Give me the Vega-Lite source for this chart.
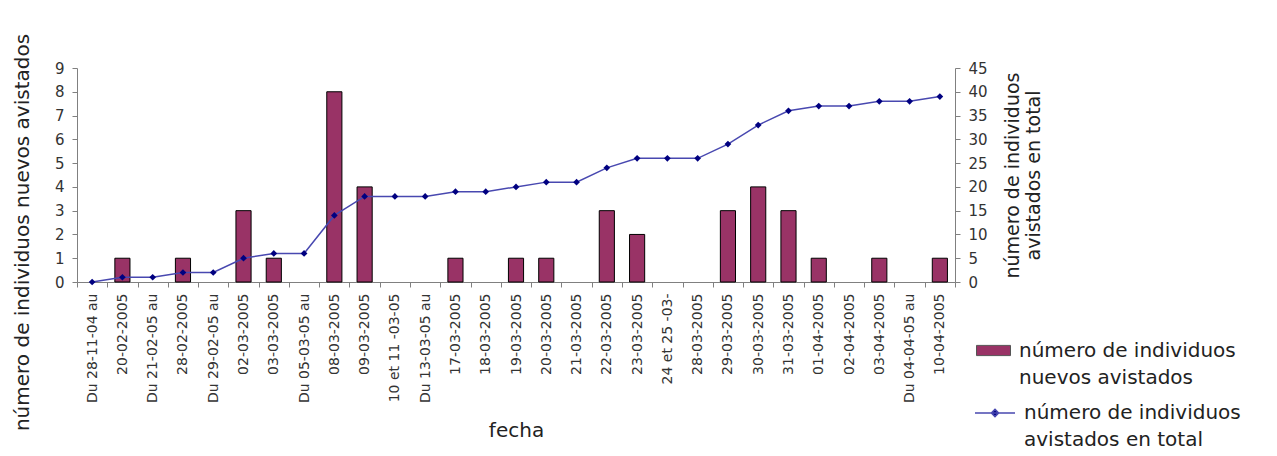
{
  "$schema": "https://vega.github.io/schema/vega-lite/v6.json",
  "autosize": {"type": "none"},
  "width": 878,
  "height": 214,
  "padding": {"left": 77, "top": 68, "right": 322, "bottom": 174},
  "background": "white",
  "config": {
    "view": {"stroke": null},
    "font": "DejaVu Sans",
    "axis": {
      "grid": false,
      "domainColor": "#808080",
      "tickColor": "#808080",
      "labelColor": "#333333",
      "titleColor": "#222222",
      "titleFontWeight": "normal",
      "tickSize": 5
    }
  },
  "data": {
    "values": [
      {"fecha": "Du 28-11-04 au", "nuevos": 0, "total": 0},
      {"fecha": "20-02-2005", "nuevos": 1, "total": 1},
      {"fecha": "Du 21-02-05 au", "nuevos": 0, "total": 1},
      {"fecha": "28-02-2005", "nuevos": 1, "total": 2},
      {"fecha": "Du 29-02-05 au", "nuevos": 0, "total": 2},
      {"fecha": "02-03-2005", "nuevos": 3, "total": 5},
      {"fecha": "03-03-2005", "nuevos": 1, "total": 6},
      {"fecha": "Du 05-03-05 au", "nuevos": 0, "total": 6},
      {"fecha": "08-03-2005", "nuevos": 8, "total": 14},
      {"fecha": "09-03-2005", "nuevos": 4, "total": 18},
      {"fecha": "10 et 11 -03-05", "nuevos": 0, "total": 18},
      {"fecha": "Du 13-03-05 au", "nuevos": 0, "total": 18},
      {"fecha": "17-03-2005", "nuevos": 1, "total": 19},
      {"fecha": "18-03-2005", "nuevos": 0, "total": 19},
      {"fecha": "19-03-2005", "nuevos": 1, "total": 20},
      {"fecha": "20-03-2005", "nuevos": 1, "total": 21},
      {"fecha": "21-03-2005", "nuevos": 0, "total": 21},
      {"fecha": "22-03-2005", "nuevos": 3, "total": 24},
      {"fecha": "23-03-2005", "nuevos": 2, "total": 26},
      {"fecha": "24 et 25 -03-", "nuevos": 0, "total": 26},
      {"fecha": "28-03-2005", "nuevos": 0, "total": 26},
      {"fecha": "29-03-2005", "nuevos": 3, "total": 29},
      {"fecha": "30-03-2005", "nuevos": 4, "total": 33},
      {"fecha": "31-03-2005", "nuevos": 3, "total": 36},
      {"fecha": "01-04-2005", "nuevos": 1, "total": 37},
      {"fecha": "02-04-2005", "nuevos": 0, "total": 37},
      {"fecha": "03-04-2005", "nuevos": 1, "total": 38},
      {"fecha": "Du 04-04-05 au", "nuevos": 0, "total": 38},
      {"fecha": "10-04-2005", "nuevos": 1, "total": 39}
    ]
  },
  "encoding": {
    "x": {
      "field": "fecha",
      "type": "nominal",
      "sort": null,
      "scale": {"paddingInner": 0, "paddingOuter": 0},
      "axis": {
        "title": "fecha",
        "titleFontSize": 20,
        "titlePadding": 18,
        "labelAngle": 270,
        "labelFontSize": 14,
        "labelPadding": 6,
        "labelLimit": 200,
        "tickBand": "extent"
      }
    }
  },
  "layer": [
    {
      "mark": {"type": "bar", "stroke": "#000000", "strokeWidth": 1, "width": {"band": 0.5}},
      "encoding": {
        "y": {
          "field": "nuevos",
          "type": "quantitative",
          "scale": {"domain": [0, 9]},
          "axis": {
            "orient": "left",
            "values": [0, 1, 2, 3, 4, 5, 6, 7, 8, 9],
            "labelFontSize": 15,
            "labelPadding": 8,
            "title": "número de individuos nuevos avistados",
            "titleFontSize": 20,
            "titlePadding": 22,
            "titleY": 164
          }
        },
        "strokeOpacity": {
          "condition": {"test": "datum.nuevos > 0", "value": 1},
          "value": 0
        },
        "fill": {
          "datum": "número de individuos nuevos avistados",
          "scale": {"range": ["#993366"]},
          "legend": {
            "orient": "none",
            "legendX": 899,
            "legendY": 265,
            "title": null,
            "symbolType": "M-1,-0.3H1V0.3H-1Z",
            "symbolSize": 1156,
            "symbolStrokeColor": "#555555",
            "symbolStrokeWidth": 1,
            "labelFontSize": 20,
            "labelColor": "#222222",
            "labelLimit": 400,
            "labelOffset": 8,
            "labelExpr": "['número de individuos', 'nuevos avistados']",
            "encode": {"labels": {"update": {"lineHeight": {"value": 27}}}}
          }
        }
      }
    },
    {
      "mark": {"type": "line", "strokeWidth": 1.5},
      "encoding": {
        "y": {
          "field": "total",
          "type": "quantitative",
          "scale": {"domain": [0, 45]},
          "axis": {
            "orient": "right",
            "values": [0, 5, 10, 15, 20, 25, 30, 35, 40, 45],
            "labelFontSize": 15,
            "labelPadding": 8,
            "title": ["número de individuos", "avistados en total"],
            "titleFontSize": 19,
            "titleAngle": 270,
            "titlePadding": 14
          }
        },
        "stroke": {
          "datum": "número de individuos avistados en total",
          "scale": {"range": ["#4848b0"]},
          "legend": {
            "orient": "none",
            "legendX": 897,
            "legendY": 324,
            "title": null,
            "symbolType": "M-1,0H1M0,-0.18L0.18,0L0,0.18L-0.18,0Z",
            "symbolSize": 1600,
            "symbolStrokeWidth": 1.5,
            "symbolFillColor": "#000080",
            "labelFontSize": 20,
            "labelColor": "#222222",
            "labelLimit": 400,
            "labelOffset": 8,
            "labelExpr": "['número de individuos', ' avistados en total']",
            "encode": {"labels": {"update": {"lineHeight": {"value": 27}}}}
          }
        }
      }
    },
    {
      "mark": {"type": "point", "shape": "diamond", "filled": true, "color": "#000080", "size": 45, "opacity": 1},
      "encoding": {
        "y": {
          "field": "total",
          "type": "quantitative",
          "scale": {"domain": [0, 45]},
          "axis": null
        }
      }
    }
  ],
  "resolve": {"scale": {"y": "independent", "fill": "independent", "stroke": "independent"}}
}
